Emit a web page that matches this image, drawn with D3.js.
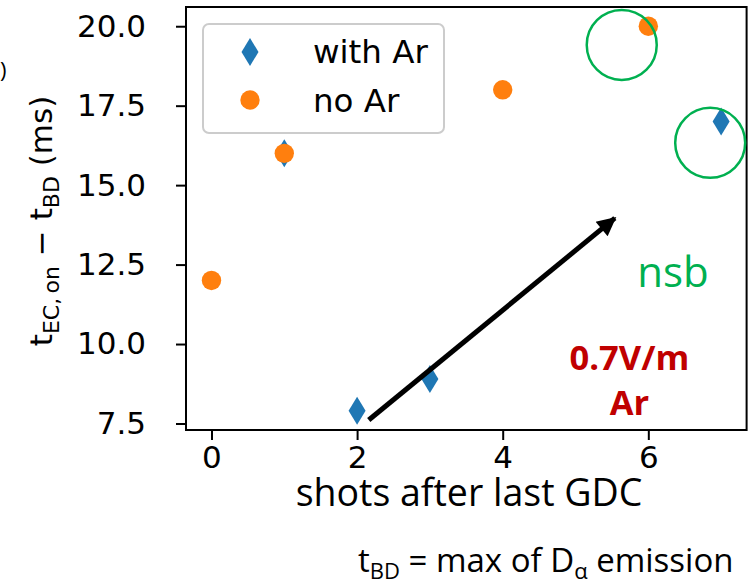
<!DOCTYPE html>
<html>
<head>
<meta charset="utf-8">
<script src="https://cdn.jsdelivr.net/npm/d3@7/dist/d3.min.js"></script>
<style>
  html, body { margin: 0; padding: 0; background: #fff; }
  svg { display: block; }
</style>
</head>
<body>
<svg id="chart" width="749" height="584"></svg>
<script>
// Shots after the last glow discharge cleaning (GDC)
const withArShots = [1, 2, 3, 7];
const withArDelay = [16.0, 7.9, 8.9, 17.0];
const noArShots = [0, 1, 4, 6];
const noArDelay = [12.0, 16.0, 18.0, 20.0];
const xTicks = [0, 2, 4, 6];
const yTicks = [7.5, 10.0, 12.5, 15.0, 17.5, 20.0];
const legendLabels = ["with Ar", "no Ar"];

const blue = "#1f77b4", orange = "#ff7f0e", green = "#00b050", darkRed = "#c00000";
const tickFont = "'DejaVu Sans', sans-serif";
const noteFont = "'Open Sans', sans-serif";

const svg = d3.select("#chart");
const plot = { left: 186, right: 746.6, top: 7, bottom: 430 };

const x = d3.scaleLinear().domain([-0.35, 7.35]).range([plot.left, plot.right]);
const y = d3.scaleLinear().domain([7.295, 20.605]).range([plot.bottom, plot.top]);

// Axes
const xAxis = d3.axisBottom(x).tickValues(xTicks).tickFormat(d3.format("d"))
  .tickSize(10).tickSizeOuter(0).tickPadding(6);
const yAxis = d3.axisLeft(y).tickValues(yTicks).tickFormat(d3.format(".1f"))
  .tickSize(10).tickSizeOuter(0).tickPadding(30);

const gx = svg.append("g").attr("transform", `translate(0,${plot.bottom})`).call(xAxis);
const gy = svg.append("g").attr("transform", `translate(${plot.left},0)`).call(yAxis);
[gx, gy].forEach(g => {
  g.select(".domain").remove();
  g.selectAll(".tick line").attr("stroke", "#000").attr("stroke-width", 2);
  g.selectAll(".tick text").attr("fill", "#000")
    .style("font-family", tickFont).style("font-size", "31px");
});
gx.selectAll(".tick text").attr("dy", "0.71em");

// Frame
svg.append("rect")
  .attr("x", plot.left).attr("y", plot.top)
  .attr("width", plot.right - plot.left).attr("height", plot.bottom - plot.top)
  .attr("fill", "none").attr("stroke", "#000").attr("stroke-width", 2);

// Thin diamond marker path
const diamond = (w, h) => `M0,${-h / 2}L${w / 2},0L0,${h / 2}L${-w / 2},0Z`;

// With Ar series (diamonds)
svg.append("g").selectAll("path")
  .data(withArShots.map((s, i) => [s, withArDelay[i]]))
  .join("path")
  .attr("d", diamond(17, 28))
  .attr("transform", d => `translate(${x(d[0])},${y(d[1])})`)
  .attr("fill", blue);

// No Ar series (circles)
svg.append("g").selectAll("circle")
  .data(noArShots.map((s, i) => [s, noArDelay[i]]))
  .join("circle")
  .attr("cx", d => x(d[0])).attr("cy", d => y(d[1]))
  .attr("r", 9.7)
  .attr("fill", orange);

// Legend
const leg = svg.append("g");
leg.append("rect")
  .attr("x", 203).attr("y", 24).attr("width", 241).attr("height", 109)
  .attr("rx", 6).attr("ry", 6)
  .attr("fill", "#fff").attr("fill-opacity", 0.8)
  .attr("stroke", "#cccccc").attr("stroke-width", 2);
leg.append("path").attr("d", diamond(17, 28))
  .attr("transform", "translate(250,52)").attr("fill", blue);
leg.append("circle").attr("cx", 250).attr("cy", 100).attr("r", 9.7).attr("fill", orange);
leg.selectAll("text").data(legendLabels).join("text")
  .attr("x", 313).attr("y", (d, i) => 63 + i * 49)
  .style("font-family", tickFont).style("font-size", "32.5px")
  .attr("fill", "#000").text(d => d);

// Highlight circles
[[5.635, 19.41], [6.85, 16.33]].forEach(([cx, cy]) => {
  svg.append("circle")
    .attr("cx", x(cx)).attr("cy", y(cy)).attr("r", 35)
    .attr("fill", "none").attr("stroke", green).attr("stroke-width", 2.5);
});

// Trend arrow
svg.append("defs").append("marker")
  .attr("id", "head").attr("viewBox", "0 0 10 10")
  .attr("refX", 9).attr("refY", 5)
  .attr("markerWidth", 4.6).attr("markerHeight", 3.8)
  .attr("markerUnits", "strokeWidth")
  .attr("orient", "auto")
  .append("path").attr("d", "M0,0L10,5L0,10Z").attr("fill", "#000");
svg.append("line")
  .attr("x1", x(2.16)).attr("y1", y(7.61))
  .attr("x2", x(5.54)).attr("y2", y(13.96))
  .attr("stroke", "#000").attr("stroke-width", 5)
  .attr("marker-end", "url(#head)");

// Annotation texts
svg.append("text").attr("x", x(6.34)).attr("y", y(11.79))
  .attr("text-anchor", "middle").attr("fill", green)
  .style("font-family", noteFont).style("font-size", "42px").text("nsb");
svg.append("text").attr("x", x(5.74)).attr("y", y(9.18))
  .attr("text-anchor", "middle").attr("fill", darkRed)
  .style("font-family", noteFont).style("font-size", "34.5px").style("font-weight", "bold")
  .text("0.7V/m");
svg.append("text").attr("x", x(5.74)).attr("y", y(7.77))
  .attr("text-anchor", "middle").attr("fill", darkRed)
  .style("font-family", noteFont).style("font-size", "34.5px").style("font-weight", "bold")
  .text("Ar");

// Axis labels
svg.append("text").attr("x", 469).attr("y", 506)
  .attr("text-anchor", "middle").attr("fill", "#000")
  .style("font-family", noteFont).style("font-size", "37.5px")
  .text("shots after last GDC");

const yl = svg.append("text")
  .attr("transform", "translate(52,221) rotate(-90)")
  .attr("text-anchor", "middle").attr("fill", "#000")
  .style("font-family", tickFont).style("font-size", "31px");
yl.append("tspan").text("t");
yl.append("tspan").attr("dy", 7).style("font-size", "22px").text("EC,\u2009on");
yl.append("tspan").attr("dy", -7).text(" \u2212 t");
yl.append("tspan").attr("dy", 7).style("font-size", "22px").text("BD");
yl.append("tspan").attr("dy", -7).text(" (ms)");

// Footnote
const foot = svg.append("text").attr("x", 358).attr("y", 572)
  .attr("fill", "#000").style("font-family", noteFont).style("font-size", "33px");
foot.append("tspan").text("t");
foot.append("tspan").attr("dy", 7).style("font-size", "22px").text("BD");
foot.append("tspan").attr("dy", -7).text(" = max of D");
foot.append("tspan").attr("dy", 7).style("font-size", "22px").text("\u03b1");
foot.append("tspan").attr("dy", -7).text(" emission");

// Panel tag
svg.append("text").attr("x", 0).attr("y", 78)
  .attr("fill", "#000").style("font-family", noteFont).style("font-size", "22px").text(")");
</script>
</body>
</html>
